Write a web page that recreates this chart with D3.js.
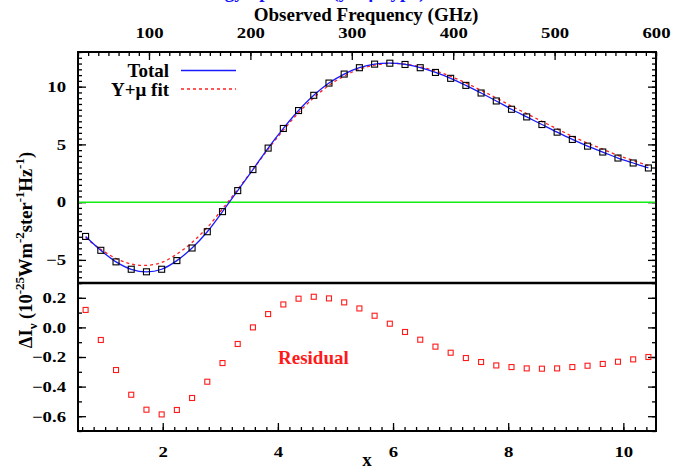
<!DOCTYPE html>
<html>
<head>
<meta charset="utf-8">
<script src="https://cdn.jsdelivr.net/npm/d3@7"></script>
<style>
  body { margin: 0; background: #fff; }
  svg text { font-family: "Liberation Serif", "Times New Roman", serif; font-weight: bold; }
</style>
</head>
<body>
<div id="main"></div>
<script>
const ctx = {
    w: 675,
    h: 467,
};

// observed frequency of each sample (GHz); x = h nu / kT with kT/h = 56.78 GHz
const freqGHz = [37.5, 52.5, 67.5, 82.5, 97.5, 112.5, 127.5, 142.5, 157.5, 172.5,
    187.5, 202.5, 217.5, 232.5, 247.5, 262.5, 277.5, 292.5, 307.5, 322.5,
    337.5, 352.5, 367.5, 382.5, 397.5, 412.5, 427.5, 442.5, 457.5, 472.5,
    487.5, 502.5, 517.5, 532.5, 547.5, 562.5, 577.5, 592.5];

const totalVals = [-2.97, -4.17, -5.17, -5.81, -6.03, -5.81, -5.06, -3.97, -2.56, -0.82,
    1.0, 2.82, 4.68, 6.38, 7.93, 9.25, 10.31, 11.09, 11.64, 11.95,
    12.03, 11.92, 11.64, 11.23, 10.72, 10.11, 9.45, 8.76, 8.04, 7.38,
    6.72, 6.06, 5.43, 4.85, 4.34, 3.82, 3.39, 2.96];

const fitVals = [-3.09, -4.09, -4.88, -5.36, -5.47, -5.22, -4.50, -3.49, -2.19, -0.58,
    1.11, 2.82, 4.59, 6.23, 7.74, 9.04, 10.11, 10.92, 11.51, 11.87,
    12.01, 11.95, 11.72, 11.36, 10.89, 10.32, 9.68, 9.02, 8.31, 7.66,
    7.00, 6.34, 5.70, 5.11, 4.59, 4.05, 3.61, 3.16];

const residualVals = [0.118, -0.085, -0.288, -0.455, -0.556, -0.588, -0.558, -0.477, -0.367, -0.241,
    -0.112, 0.0, 0.09, 0.155, 0.194, 0.207, 0.196, 0.169, 0.128, 0.079,
    0.025, -0.031, -0.083, -0.130, -0.171, -0.207, -0.234, -0.257, -0.268, -0.277,
    -0.279, -0.277, -0.268, -0.259, -0.247, -0.232, -0.216, -0.200];

const freqTicks = [100, 200, 300, 400, 500, 600];
const xTicks = [2, 4, 6, 8, 10];
const yTopTicks = [-5, 0, 5, 10];
const yBotTicks = [-0.6, -0.4, -0.2, 0, 0.2];

const kTh = 56.78;
const freqRange = [30, 600];

function stretchLabels(g) {
    // tick labels in the original are wider than they are tall
    g.selectAll(".tick text")
        .style("font-size", "15px")
        .attr("transform", "scale(1.25,1)");
}

function createViz() {
    const left = 78, right = 656, top = 52, mid = 283, bottom = 431;

    const svgEl = d3.select("#main").append("svg")
        .attr("width", ctx.w)
        .attr("height", ctx.h);

    const fScale = d3.scaleLinear().domain(freqRange).range([left, right]);
    const xScale = d3.scaleLinear().domain(freqRange.map(f => f / kTh)).range([left, right]);
    const yTop = d3.scaleLinear().domain([-7, 13]).range([mid, top]);
    const yBot = d3.scaleLinear().domain([-0.7, 0.3]).range([bottom, mid]);

    // clipped title peeking in at the very top
    svgEl.append("text")
        .attr("x", 305).attr("y", -2)
        .attr("text-anchor", "middle")
        .style("font-size", "19px")
        .style("fill", "#1010ff")
        .text("Energy Spectrum (y + μ type)");

    // ---- top panel axes
    const gFreq = svgEl.append("g").attr("transform", `translate(0,${top})`);
    gFreq.call(d3.axisTop(fScale).tickValues(fScale.ticks(57)).tickSize(-4).tickFormat(""));
    gFreq.append("g").call(d3.axisTop(fScale).tickValues(freqTicks).tickSize(-8).tickPadding(14));
    stretchLabels(gFreq);

    const gyTL = svgEl.append("g").attr("transform", `translate(${left},0)`);
    gyTL.call(d3.axisLeft(yTop).tickValues(yTop.ticks(40)).tickSize(-4).tickFormat(""));
    gyTL.append("g").call(d3.axisLeft(yTop).tickValues(yTopTicks).tickSize(-8).tickPadding(9.6));
    stretchLabels(gyTL);

    const gyTR = svgEl.append("g").attr("transform", `translate(${right},0)`);
    gyTR.call(d3.axisRight(yTop).tickValues(yTop.ticks(40)).tickSize(-4).tickFormat(""));
    gyTR.append("g").call(d3.axisRight(yTop).tickValues(yTopTicks).tickSize(-8).tickFormat(""));

    // ---- bottom panel axes
    const gX = svgEl.append("g").attr("transform", `translate(0,${bottom})`);
    gX.call(d3.axisBottom(xScale).tickValues(xScale.ticks(50)).tickSize(-4).tickFormat(""));
    gX.append("g").call(d3.axisBottom(xScale).tickValues(xTicks).tickSize(-8).tickPadding(15));
    stretchLabels(gX);

    const gyBL = svgEl.append("g").attr("transform", `translate(${left},0)`);
    gyBL.call(d3.axisLeft(yBot).tickValues(yBot.ticks(10)).tickSize(-4).tickFormat(""));
    gyBL.append("g").call(d3.axisLeft(yBot).tickValues(yBotTicks).tickSize(-8).tickPadding(9.6)
        .tickFormat(d3.format(".1f")));
    stretchLabels(gyBL);

    const gyBR = svgEl.append("g").attr("transform", `translate(${right},0)`);
    gyBR.call(d3.axisRight(yBot).tickValues(yBot.ticks(10)).tickSize(-4).tickFormat(""));
    gyBR.append("g").call(d3.axisRight(yBot).tickValues(yBotTicks).tickSize(-8).tickFormat(""));

    svgEl.selectAll(".domain").remove();
    svgEl.selectAll(".tick line").attr("stroke", "#000").attr("stroke-width", 1.3);
    svgEl.selectAll(".tick text").attr("fill", "#000");

    // ---- data
    svgEl.append("defs").append("clipPath").attr("id", "clipTop")
        .append("rect").attr("x", left).attr("y", top)
        .attr("width", right - left).attr("height", mid - top);

    const plotTop = svgEl.append("g").attr("clip-path", "url(#clipTop)");

    plotTop.append("line")
        .attr("x1", left).attr("x2", right)
        .attr("y1", yTop(0)).attr("y2", yTop(0))
        .attr("stroke", "#11ee11").attr("stroke-width", 1.5);

    const pts = freqGHz.map((f, i) => ({ f: f, tot: totalVals[i], fit: fitVals[i], res: residualVals[i] }));

    const lineTot = d3.line().x(d => fScale(d.f)).y(d => yTop(d.tot)).curve(d3.curveCatmullRom);
    const lineFit = d3.line().x(d => fScale(d.f)).y(d => yTop(d.fit)).curve(d3.curveCatmullRom);

    plotTop.append("path").datum(pts)
        .attr("d", lineFit)
        .attr("fill", "none").attr("stroke", "#ff2020")
        .attr("stroke-width", 1.3).attr("stroke-dasharray", "3,3");

    plotTop.append("path").datum(pts)
        .attr("d", lineTot)
        .attr("fill", "none").attr("stroke", "#1a1aff")
        .attr("stroke-width", 1.3);

    plotTop.selectAll(".sq")
        .data(pts)
        .enter().append("rect")
        .attr("class", "sq")
        .attr("x", d => fScale(d.f) - 3)
        .attr("y", d => yTop(d.tot) - 3)
        .attr("width", 6).attr("height", 6)
        .attr("fill", "none").attr("stroke", "#000").attr("stroke-width", 1.1);

    svgEl.selectAll(".res")
        .data(pts)
        .enter().append("rect")
        .attr("class", "res")
        .attr("x", d => fScale(d.f) - 2.5)
        .attr("y", d => yBot(d.res) - 2.5)
        .attr("width", 5).attr("height", 5)
        .attr("fill", "none").attr("stroke", "#ff1a1a").attr("stroke-width", 1.1);

    // ---- frame
    svgEl.append("rect")
        .attr("x", left).attr("y", top)
        .attr("width", right - left).attr("height", bottom - top)
        .attr("fill", "none").attr("stroke", "#000").attr("stroke-width", 2);
    svgEl.append("line")
        .attr("x1", left).attr("x2", right)
        .attr("y1", mid).attr("y2", mid)
        .attr("stroke", "#000").attr("stroke-width", 2.4);

    // ---- legend
    const legend = [
        { label: "Total", color: "#1a1aff", dash: null, y: 77 },
        { label: "Y+μ fit", color: "#ff2020", dash: "3,3", y: 95.5 }
    ];
    legend.forEach(l => {
        svgEl.append("text")
            .attr("x", 169).attr("y", l.y)
            .attr("text-anchor", "end")
            .style("font-size", "19px")
            .text(l.label);
        svgEl.append("line")
            .attr("x1", 181).attr("x2", 236)
            .attr("y1", l.y - 6.5).attr("y2", l.y - 6.5)
            .attr("stroke", l.color).attr("stroke-width", 1.3)
            .attr("stroke-dasharray", l.dash);
    });

    // ---- titles
    svgEl.append("text")
        .attr("x", 366).attr("y", 21)
        .attr("text-anchor", "middle")
        .style("font-size", "19px")
        .text("Observed Frequency (GHz)");

    svgEl.append("text")
        .attr("x", 367).attr("y", 466)
        .attr("text-anchor", "middle")
        .style("font-size", "19px")
        .text("x");

    svgEl.append("text")
        .attr("x", 278).attr("y", 364)
        .style("font-size", "19px")
        .style("fill", "#ff1a1a")
        .text("Residual");

    const yl = svgEl.append("text")
        .attr("transform", "translate(32,250) rotate(-90)")
        .attr("text-anchor", "middle")
        .style("font-size", "18.5px");
    yl.append("tspan").text("ΔI");
    yl.append("tspan").attr("dy", 5).style("font-size", "13px").text("ν");
    yl.append("tspan").attr("dy", -5).text(" (10");
    yl.append("tspan").attr("dy", -8).style("font-size", "13px").text("-25");
    yl.append("tspan").attr("dy", 8).text("Wm");
    yl.append("tspan").attr("dy", -8).style("font-size", "13px").text("-2");
    yl.append("tspan").attr("dy", 8).text("ster");
    yl.append("tspan").attr("dy", -8).style("font-size", "13px").text("-1");
    yl.append("tspan").attr("dy", 8).text("Hz");
    yl.append("tspan").attr("dy", -8).style("font-size", "13px").text("-1");
    yl.append("tspan").attr("dy", 8).text(")");
}

createViz();
</script>
</body>
</html>
